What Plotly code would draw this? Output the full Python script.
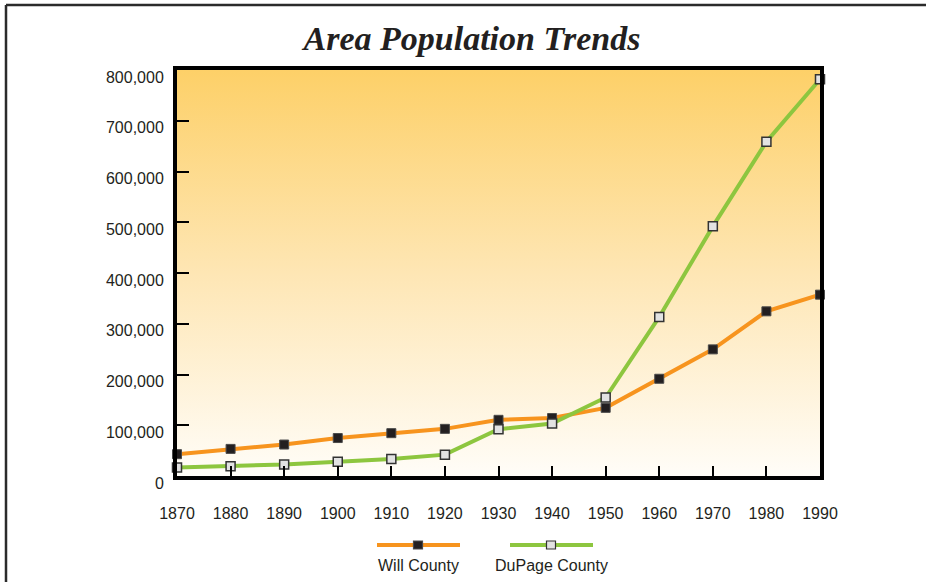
import plotly.graph_objects as go

years = [1870, 1880, 1890, 1900, 1910, 1920, 1930, 1940, 1950, 1960, 1970, 1980, 1990]
will_county = [43000, 53400, 62000, 74800, 84400, 92900, 110700, 114200, 134300, 191600, 249500, 324500, 357300]
dupage_county = [16700, 19200, 22600, 28200, 33400, 42100, 92000, 103500, 154600, 313500, 491900, 658800, 781700]
y_ticks = [0, 100000, 200000, 300000, 400000, 500000, 600000, 700000, 800000]
y_tick_labels = ["0", "100,000", "200,000", "300,000", "400,000", "500,000", "600,000", "700,000", "800,000"]
series_names = ["Will County", "DuPage County"]

W, H = 926, 582
OFF = 0  # page body margin (removed via post_script)
# plot area in page pixel coordinates
PL, PR, PT, PB = 177, 820, 70, 476
PW, PH = PR - PL, PB - PT

def px_x(p):
    return (p - PL) / PW

def px_y(p):
    return (PB - p) / PH

ORANGE = "#F7941E"
GREEN = "#8DC63F"
DARK = "#231F20"
LIGHT = "#E2E2E2"
FONT = "Liberation Sans, Arial"

fig = go.Figure()

# gradient background
fig.add_trace(go.Scatter(
    x=[years[0], years[-1], years[-1], years[0], years[0]],
    y=[y_ticks[0], y_ticks[0], y_ticks[-1], y_ticks[-1], y_ticks[0]],
    mode="none", fill="toself",
    fillgradient=dict(type="vertical",
                      colorscale=[[0, "#FFFDF8"], [0.5, "#FEE6B4"], [1, "#FDD068"]]),
    hoverinfo="skip", showlegend=False,
))

fig.add_trace(go.Scatter(
    x=years, y=will_county, mode="lines+markers", name=series_names[0],
    line=dict(color=ORANGE, width=4),
    marker=dict(symbol="square", size=9, color=DARK, line=dict(color="#4a4a4a", width=1)),
    showlegend=False, cliponaxis=False,
))
fig.add_trace(go.Scatter(
    x=years, y=dupage_county, mode="lines+markers", name=series_names[1],
    line=dict(color=GREEN, width=4),
    marker=dict(symbol="square", size=9, color=LIGHT, line=dict(color="#333333", width=1.5)),
    showlegend=False, cliponaxis=False,
))

shapes = []
annotations = []
# outer frame lines
shapes.append(dict(type="line", xref="paper", yref="paper",
                   x0=px_x(6), x1=px_x(W + 20), y0=px_y(5), y1=px_y(5),
                   line=dict(color="#2b2b2b", width=2.5)))
shapes.append(dict(type="line", xref="paper", yref="paper",
                   x0=px_x(6), x1=px_x(6), y0=px_y(5), y1=px_y(H + 20),
                   line=dict(color="#2b2b2b", width=2.5)))

# custom legend
legend_items = [
    (series_names[0], ORANGE, DARK, "#4a4a4a", 377, 460, 418),
    (series_names[1], GREEN, LIGHT, "#333333", 510, 593, 551),
]
for name, lc, mc, ml, x0, x1, xm in legend_items:
    shapes.append(dict(type="line", xref="paper", yref="paper",
                       x0=px_x(x0), x1=px_x(x1), y0=px_y(545), y1=px_y(545),
                       line=dict(color=lc, width=4)))
    shapes.append(dict(type="rect", xref="paper", yref="paper",
                       xsizemode="pixel", ysizemode="pixel",
                       xanchor=px_x(xm), yanchor=px_y(545),
                       x0=-4.5, x1=4.5, y0=-4, y1=4,
                       fillcolor=mc, line=dict(color=ml, width=1.2)))
    annotations.append(dict(text=name, xref="paper", yref="paper",
                            x=px_x((x0 + x1) / 2), y=px_y(565),
                            showarrow=False, xanchor="center", yanchor="middle",
                            font=dict(family=FONT, size=16, color=DARK)))

fig.update_layout(
    width=W, height=H,
    margin=dict(l=PL - OFF, r=W - PR + OFF, t=PT - OFF, b=H - PB + OFF),
    paper_bgcolor="white", plot_bgcolor="white",
    title=dict(text="Area Population Trends", x=(472 - OFF) / W, xanchor="center",
               y=1 - (38 - OFF) / H, yanchor="middle", yref="container",
               font=dict(family="Liberation Serif, Times New Roman", size=34,
                         color=DARK, weight="bold", style="italic")),
    shapes=shapes, annotations=annotations,
    showlegend=False,
)
fig.update_xaxes(
    range=[years[0], years[-1]], tickvals=years, ticktext=[str(y) for y in years],
    ticks="inside", ticklen=10, tickwidth=2, tickcolor="black",
    showline=True, linewidth=4, linecolor="black", mirror=True,
    showgrid=False, zeroline=False,
    ticklabelstandoff=20,
    tickfont=dict(family=FONT, size=16, color=DARK),
)
fig.update_yaxes(
    range=[y_ticks[0], y_ticks[-1]], tickvals=y_ticks, ticktext=y_tick_labels,
    ticks="inside", ticklen=12, tickwidth=2, tickcolor="black",
    showline=True, linewidth=4, linecolor="black", mirror=True,
    showgrid=False, zeroline=False,
    ticklabelstandoff=6, ticklabelshift=7,
    tickfont=dict(family=FONT, size=16, color=DARK),
)

fig.write_html("out.html", config={"displayModeBar": False},
               post_script="document.body.style.margin='0';document.body.style.overflow='hidden';")
